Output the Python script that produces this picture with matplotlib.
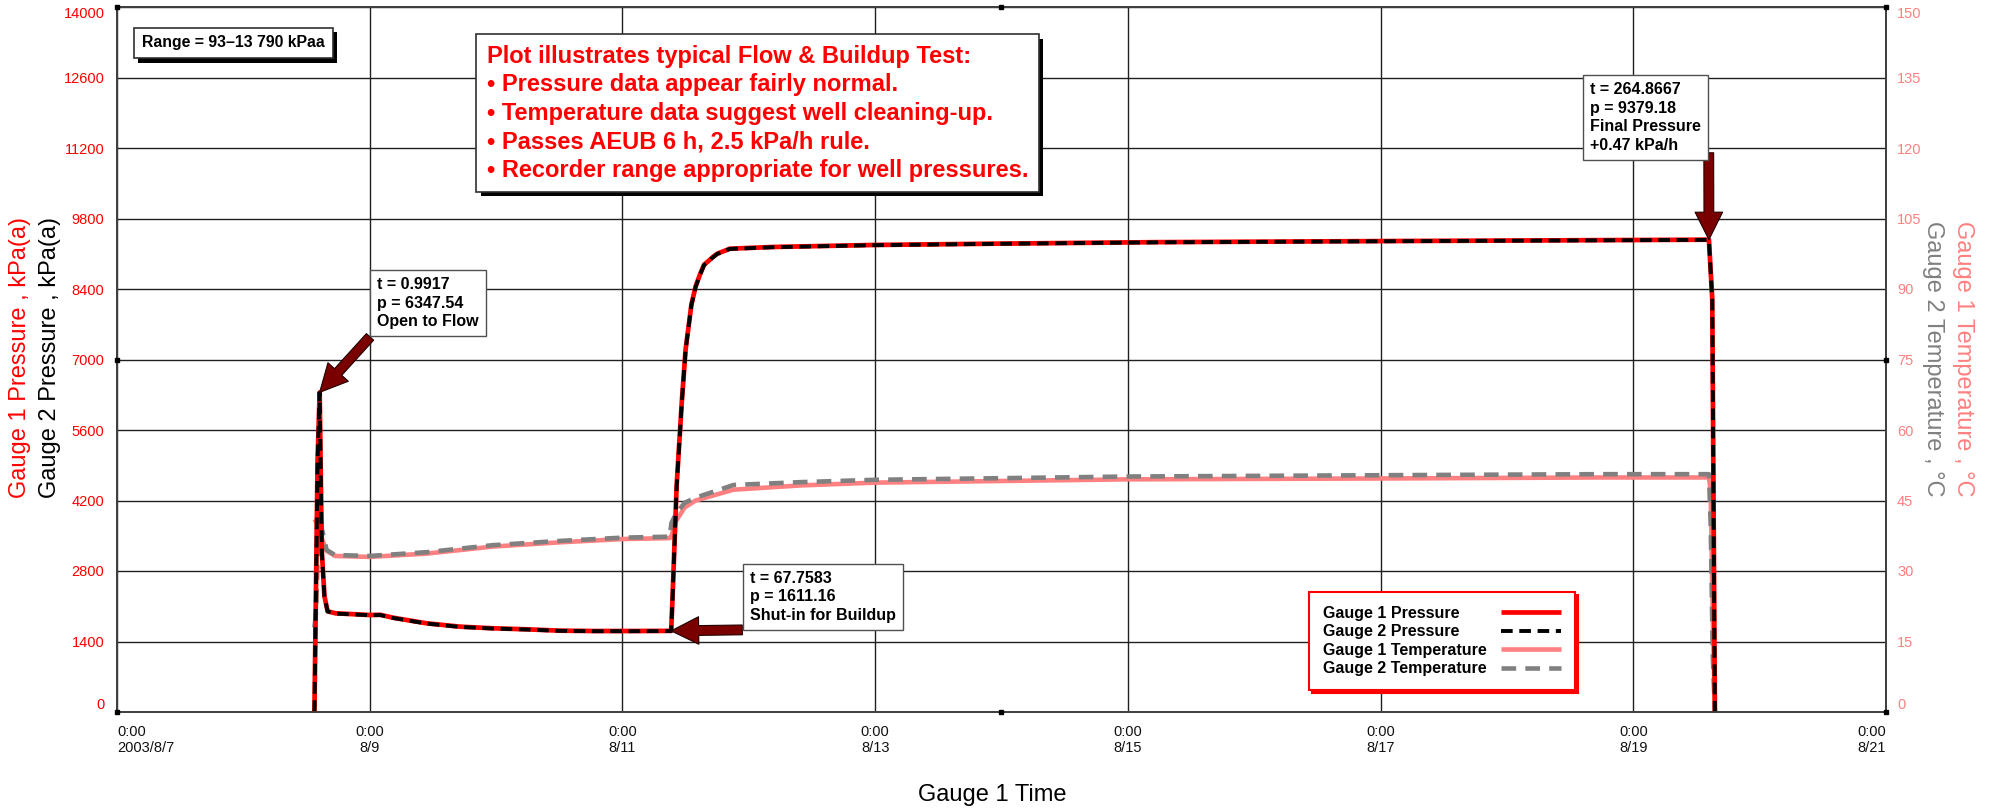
import matplotlib.pyplot as plt
import matplotlib.patheffects as pe
from matplotlib.transforms import Bbox
from datetime import datetime, timedelta

plt.rcParams['font.family'] = ['Liberation Sans', 'DejaVu Sans']

# test start (gauge time t = 0)
t0 = datetime(2003, 8, 8, 13, 30)

# pressure record, hours since t0 and kPa(a)
t_pres = [0.0, 0.6, 0.9917, 1.4, 1.9, 2.5, 4.0, 10.5, 12.5, 14.9, 21.3, 27.6, 33.9,
          40.3, 46.6, 53.0, 60.0, 67.7583, 68.0, 68.8, 69.8, 70.5, 71.6, 72.4,
          73.2, 74.0, 75.7, 76.5, 78.9, 87.0, 106.0, 130.0, 160.0, 200.0, 240.0,
          264.8667, 265.5, 266.0]
p_gauge1 = [0, 5000, 6347.54, 3200, 2300, 2000, 1960, 1926, 1930, 1873, 1761, 1695,
            1662, 1642, 1615, 1608, 1608, 1611.16, 2224, 4500, 6196, 7200, 8090,
            8450, 8680, 8880, 9036, 9100, 9200, 9234, 9274, 9301, 9330, 9350, 9368,
            9379.18, 8200, 0]
p_gauge2 = [0, 4980, 6340, 3180, 2290, 1995, 1955, 1922, 1926, 1868, 1757, 1690,
            1658, 1638, 1612, 1605, 1605, 1608, 2210, 4480, 6180, 7190, 8080,
            8440, 8670, 8875, 9030, 9095, 9196, 9230, 9270, 9298, 9327, 9347, 9365,
            9376, 8180, 0]

# temperature record, hours since t0 and degC
t_temp = [0.0, 0.3, 0.92, 1.4, 2.3, 3.9, 10.5, 21.3, 33.9, 46.6, 58.6, 67.5, 67.8,
          68.6, 70.3, 72.4, 79.6, 92.2, 106.4, 154.5, 206.0, 244.0, 264.87,
          265.2, 265.6, 266.0]
temp_gauge1 = [41.0, 40.5, 39.0, 37.0, 34.3, 33.2, 33.0, 33.7, 35.2, 36.1, 36.8, 37.0,
               37.4, 40.5, 43.5, 45.0, 47.3, 48.2, 48.8, 49.5, 49.7, 49.9, 49.9,
               47.0, 20.0, 0.0]
temp_gauge2 = [18.0, 21.0, 44.5, 39.0, 34.5, 33.4, 33.2, 34.0, 35.5, 36.4, 37.1, 37.3,
               40.2, 42.0, 44.5, 45.6, 48.3, 48.9, 49.4, 50.1, 50.4, 50.6, 50.6,
               40.0, 12.0, 0.0]

x_ticks = [datetime(2003, 8, d) for d in range(7, 22, 2)]
x_labels = ['0:00\n2003/8/7'] + ['0:00\n8/%d' % d for d in range(9, 22, 2)]
p_ticks = list(range(0, 14001, 1400))
temp_ticks = list(range(0, 151, 15))
series_names = ['Gauge 1 Pressure', 'Gauge 2 Pressure', 'Gauge 1 Temperature',
                'Gauge 2 Temperature']

W, H = 1990, 809


def fpos(x, y):
    # reference pixel -> figure fraction
    return x / W, 1 - y / H


fig = plt.figure(figsize=(W / 100, H / 100), dpi=100)
ax_t = fig.add_axes([117 / W, 97 / H, 1769 / W, 705 / H])
ax = ax_t.twinx()
ax.yaxis.tick_left()
ax_t.yaxis.tick_right()
ax.set_zorder(ax_t.get_zorder() + 1)
ax.patch.set_visible(False)

tp = [t0 + timedelta(hours=h) for h in t_pres]
tt = [t0 + timedelta(hours=h) for h in t_temp]

l3, = ax_t.plot(tt, temp_gauge1, color='#FF8080', lw=3.3, solid_capstyle='butt')
l4, = ax_t.plot(tt, temp_gauge2, color='#808080', lw=3.3, dash_capstyle='butt')
l4.set_dashes([3.2, 2.0])
l1, = ax.plot(tp, p_gauge1, color='#FF0000', lw=3.4, solid_capstyle='butt')
l2, = ax.plot(tp, p_gauge2, color='black', lw=2.8, dash_capstyle='butt')
l2.set_dashes([3.0, 1.7])

ax.set_xlim(datetime(2003, 8, 7), datetime(2003, 8, 21))
ax.set_ylim(0, 14000)
ax_t.set_ylim(0, 150)
ax_t.set_xticks(x_ticks)
ax_t.set_xticklabels(x_labels)
ax.set_yticks(p_ticks)
ax_t.set_yticks(temp_ticks)

ax_t.grid(True, color='#202020', lw=1.0)
ax.grid(False)

for a in (ax, ax_t):
    for s in a.spines.values():
        s.set_color('#404040')
        s.set_linewidth(1.3)

ax.tick_params(axis='y', length=0, pad=9, labelsize=10.5, labelcolor='#FF0000')
ax_t.tick_params(axis='y', length=0, pad=8, labelsize=10.5, labelcolor='#FF8080')
ax_t.tick_params(axis='x', length=0, pad=9, labelsize=10.5, labelcolor='#111111')
ax.tick_params(axis='x', length=0, labelbottom=False)

for a in (ax, ax_t):
    ticks = a.yaxis.get_major_ticks()
    ticks[0].label1.set_va('bottom')
    ticks[0].label2.set_va('bottom')
    ticks[-1].label1.set_va('top')
    ticks[-1].label2.set_va('top')
xl = ax_t.get_xticklabels()
xl[0].set_ha('left')
xl[-1].set_ha('right')

# selection handles on the plot frame
ax.plot([0, 0.5, 1, 1, 1, 0.5, 0, 0], [0, 0, 0, 0.5, 1, 1, 1, 0.5], 's', ms=3,
        color='black', transform=ax.transAxes, clip_on=False, zorder=10)

# axis titles
fig.text(*fpos(20, 357), 'Gauge 1 Pressure , kPa(a)', rotation=90, color='#FF0000',
         fontsize=17, ha='center', va='center')
fig.text(*fpos(50, 357), 'Gauge 2 Pressure , kPa(a)', rotation=90, color='black',
         fontsize=17, ha='center', va='center')
fig.text(*fpos(1933, 359), 'Gauge 2 Temperature , °C', rotation=270, color='#808080',
         fontsize=17, ha='center', va='center')
fig.text(*fpos(1963, 359), 'Gauge 1 Temperature , °C', rotation=270, color='#FF8080',
         fontsize=17, ha='center', va='center')
fig.text(*fpos(992, 795), 'Gauge 1 Time', fontsize=17, ha='center', va='center')

shadow = [pe.SimplePatchShadow(offset=(3, -3), shadow_rgbFace='black', alpha=1.0),
          pe.Normal()]

rng = fig.text(*fpos(142, 43), 'Range = 93–13 790 kPaa', fontsize=11.4, weight='bold',
               ha='left', va='center', zorder=20,
               bbox=dict(boxstyle='square,pad=0.5', fc='white', ec='#303030', lw=1.2))
rng.get_bbox_patch().set_path_effects(shadow)

note = ('Plot illustrates typical Flow & Buildup Test:\n'
        '• Pressure data appear fairly normal.\n'
        '• Temperature data suggest well cleaning-up.\n'
        '• Passes AEUB 6 h, 2.5 kPa/h rule.\n'
        '• Recorder range appropriate for well pressures.')
nt = fig.text(*fpos(487, 45), note, fontsize=17, weight='bold', color='#FF0000',
              ha='left', va='top', linespacing=1.3, zorder=20,
              bbox=dict(boxstyle='square,pad=0.45', fc='white', ec='#303030', lw=1.2))
nt.get_bbox_patch().set_path_effects(shadow)

arrow = dict(arrowstyle='simple,head_length=0.9,head_width=0.9,tail_width=0.32',
             mutation_scale=22, fc='#7A0000', ec='#200000', lw=0.8,
             shrinkA=0, shrinkB=0)
box = dict(boxstyle='square,pad=0.45', fc='white', ec='#505050', lw=1.0)
note_font = dict(fontsize=11.5, weight='bold', linespacing=1.3, zorder=20)

ax.annotate('t = 0.9917\np = 6347.54\nOpen to Flow',
            xy=(t0 + timedelta(hours=0.9917), 6347.54),
            xytext=fpos(377, 277), textcoords='figure fraction',
            ha='left', va='top', bbox=box,
            arrowprops=dict(arrow, relpos=(0, 0)), **note_font)
ax.annotate('t = 67.7583\np = 1611.16\nShut-in for Buildup',
            xy=(t0 + timedelta(hours=67.7583), 1611.16),
            xytext=fpos(750, 623), textcoords='figure fraction',
            ha='left', va='bottom', bbox=box,
            arrowprops=dict(arrow, relpos=(0, -0.13)), **note_font)
ax.annotate('t = 264.8667\np = 9379.18\nFinal Pressure\n+0.47 kPa/h',
            xy=(t0 + timedelta(hours=264.8667), 9379.18),
            xytext=fpos(1701, 82), textcoords='figure fraction',
            ha='right', va='top', multialignment='left', bbox=box,
            arrowprops=dict(arrow, relpos=(1.07, 0)), **note_font)

leg = ax.legend([l1, l2, l3, l4], series_names,
                loc='lower right', bbox_to_anchor=fpos(1575, 690),
                bbox_transform=fig.transFigure, borderaxespad=0, markerfirst=False,
                fancybox=False, edgecolor='#FF0000', framealpha=1,
                prop=dict(weight='bold', size=11.5), handlelength=3.8,
                labelspacing=0.22, borderpad=0.85, handletextpad=0.9,
                shadow={'color': '#FF0000', 'alpha': 1})
leg.get_frame().set_linewidth(1.5)
leg.set_zorder(30)

# left-align the legend labels (Excel style: text left, sample lines right)
text_areas = [item.get_children()[0]
              for item in leg._legend_handle_box.get_children()[0].get_children()]
orig_bbox = [ta.get_bbox for ta in text_areas]


def padded_bbox(renderer, f):
    bb = f(renderer)
    w = max(g(renderer).width for g in orig_bbox)
    return Bbox.from_bounds(bb.x0, bb.y0, w, bb.height)


for ta, f in zip(text_areas, orig_bbox):
    ta.get_bbox = lambda renderer, f=f: padded_bbox(renderer, f)

fig.savefig('out.png', dpi=100, facecolor='white')
